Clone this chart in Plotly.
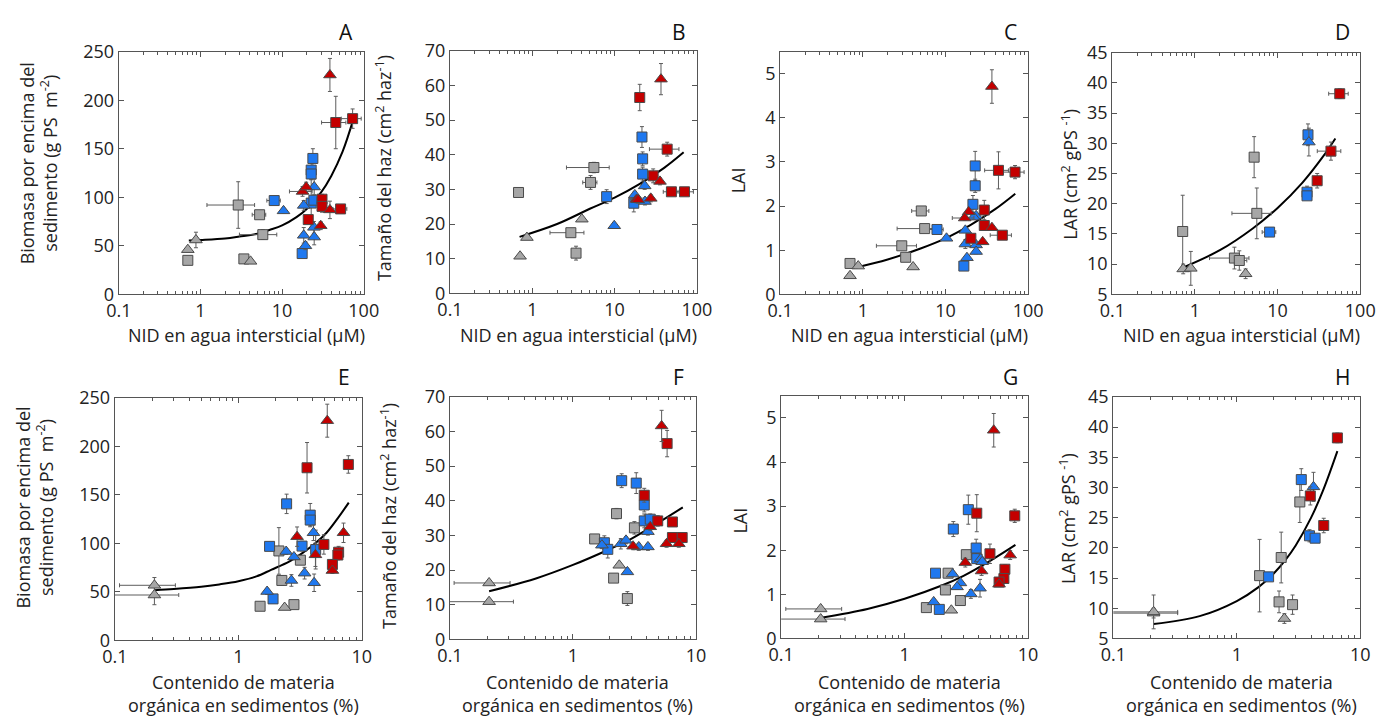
import plotly.graph_objects as go

W, H = 1387, 722
GREY, BLUE, RED = "#a6a6a6", "#1f78ef", "#c40000"
EDGE, ERR = "#4a4a4a", "#5c5c5c"
FONT = "Open Sans"

# rows: (x, y, y_error, x_error)
A_grey_sq = [(0.70, 35, 2, 0), (2.9, 92, 24, 1.7), (5.3, 82, 4, 1.0), (5.8, 61.5, 5, 2.8), (3.4, 36.5, 2, 0.3)]
A_grey_tri = [(0.70, 46, 2, 0), (0.88, 56, 8, 0), (4.1, 34, 1, 0)]
A_blue_sq = [(8.0, 96.6, 3, 1.5), (23.8, 140, 10, 0), (22.7, 128, 8, 0), (22.7, 124, 6, 0), (22.7, 94, 25, 0), (24.5, 97, 5, 0), (17.6, 42, 2, 0)]
A_blue_tri = [(10.4, 86, 2, 0), (24.7, 110.6, 8, 0), (18.4, 91.6, 5, 0), (24.5, 69, 6, 0), (18.4, 60.8, 8, 0), (24.7, 59, 8, 0), (19.3, 50, 4, 0)]
A_red_sq = [(45.4, 177, 27, 15), (73, 181, 10, 20), (30.8, 98, 5, 4), (30.8, 90.6, 6, 0), (52, 88, 4, 10), (20.9, 77, 4, 2)]
A_red_tri = [(38.5, 226, 17, 0), (17.8, 106, 5, 5.5), (19.7, 110.5, 5, 0), (38.5, 87, 9, 0), (29.7, 70.7, 4, 0)]
A_fit_x = [0.72, 1, 2, 3, 5, 7, 10, 15, 20, 30, 40, 55, 75]
A_fit_y = [55.5, 56, 57.5, 59.5, 62.5, 66.3, 71, 79.5, 88, 105, 122, 147, 181]

B_grey_sq = [(0.68, 29.1, 1, 0), (2.94, 17.5, 1, 1.3), (3.4, 11.6, 2, 0), (5.1, 32, 2, 1.0), (5.6, 36.3, 1.5, 3.0)]
B_grey_tri = [(0.71, 10.7, 0.5, 0), (0.86, 16.1, 0.5, 0), (4.0, 21.4, 0.5, 0)]
B_blue_sq = [(8.0, 27.9, 2, 0), (17.1, 26, 2.5, 0), (21.5, 45.1, 3, 0), (21.9, 38.8, 2, 0), (21.9, 34.4, 2, 0)]
B_blue_tri = [(9.9, 19.5, 0.5, 0), (17.6, 28.4, 1, 0), (23.2, 31, 1, 0), (23.4, 26.5, 1, 0)]
B_red_sq = [(20.2, 56.5, 3.8, 2), (43.5, 41.6, 2, 17), (29.4, 33.9, 2, 3), (49, 29.3, 1, 10), (70.7, 29.3, 1, 20)]
B_red_tri = [(36.6, 61.8, 4.5, 0), (35.6, 32.3, 1, 0), (18.5, 27.1, 1, 3), (19.3, 27, 1, 0), (27.5, 27.4, 1, 0)]
B_fit_x = [0.7, 2, 5, 10, 20, 40, 69]
B_fit_y = [16.3, 20, 24.4, 27.6, 31.5, 36.2, 40.7]

C_grey_sq = [(0.70, 0.70, 0.03, 0), (2.96, 1.10, 0.05, 1.5), (3.3, 0.84, 0.05, 0), (5.1, 1.89, 0.05, 1.2), (5.6, 1.49, 0.05, 3.0)]
C_grey_tri = [(0.70, 0.42, 0.02, 0), (0.88, 0.64, 0.02, 0), (4.06, 0.62, 0.02, 0)]
C_blue_sq = [(7.9, 1.47, 0.05, 1.5), (22.9, 2.91, 0.33, 0), (22.9, 2.46, 0.15, 0), (21.5, 2.04, 0.2, 0), (16.7, 0.64, 0.05, 0)]
C_blue_tri = [(10.3, 1.27, 0.03, 0), (23.5, 1.78, 0.05, 0), (22, 1.75, 0.05, 0), (17.4, 1.45, 0.05, 0), (17.4, 1.14, 0.1, 0), (23.5, 1.12, 0.05, 0), (23.5, 0.97, 0.05, 0), (18.2, 0.83, 0.05, 0)]
C_red_sq = [(43.8, 2.81, 0.42, 14), (69.5, 2.77, 0.15, 20), (29.5, 1.91, 0.22, 0), (29.5, 1.56, 0.1, 0), (48.8, 1.34, 0.05, 14), (20.3, 1.27, 0.08, 0)]
C_red_tri = [(36.5, 4.71, 0.38, 0), (19.1, 1.87, 0.05, 0), (17.1, 1.73, 0.05, 5), (36.5, 1.51, 0.05, 0), (28.2, 1.19, 0.05, 0)]
C_fit_x = [0.83, 2, 5, 10, 20, 40, 70]
C_fit_y = [0.61, 0.79, 1.04, 1.27, 1.57, 1.93, 2.28]

D_grey_sq = [(0.71, 15.4, 6, 0), (3.0, 11.0, 1.8, 1.5), (3.44, 10.6, 1.6, 0.8), (5.2, 27.7, 3.4, 0.6), (5.6, 18.4, 4.2, 2.8)]
D_grey_tri = [(0.72, 9.2, 0.8, 0), (0.89, 9.3, 2.8, 0), (4.1, 8.4, 0.8, 0)]
D_blue_sq = [(8.0, 15.3, 0.3, 1.5), (22.7, 21.9, 1, 0), (22.7, 21.3, 0.5, 0), (23.3, 31.4, 1.8, 0)]
D_blue_tri = [(23.9, 30.2, 2.3, 0)]
D_red_sq = [(56.5, 38.2, 0.8, 15), (44.2, 28.7, 1.5, 14), (30.1, 23.8, 1.2, 0)]
D_red_tri = []
D_fit_x = [0.71, 2, 5, 10, 20, 35, 50]
D_fit_y = [9.4, 12.3, 15.9, 19.3, 23.5, 27.7, 30.8]

E_grey_sq = [(1.5, 35.2, 2, 0), (2.82, 36.9, 2, 0), (2.13, 92.2, 24, 0), (2.25, 61.8, 5, 0), (3.18, 82.7, 4, 0)]
E_grey_tri = [(0.209, 56.8, 8, 0.1), (0.209, 46.8, 10, 0.12), (2.37, 33.9, 2, 0)]
E_blue_sq = [(2.46, 140.7, 10, 0), (1.79, 96.9, 3, 0), (3.28, 97.2, 5, 0), (3.82, 129.1, 12, 0), (3.82, 124, 6, 0), (4.23, 93.6, 20, 0), (1.91, 42.8, 2, 0)]
E_blue_tri = [(2.44, 91.6, 3, 0), (2.82, 86, 3, 0), (4.06, 110.9, 8, 0), (3.44, 69.3, 6, 0), (2.69, 61.8, 6, 0), (4.11, 59.4, 9, 0), (1.71, 50.4, 3, 0)]
E_red_sq = [(3.6, 177.9, 26, 0), (7.78, 181.3, 9, 0), (4.93, 98.9, 10, 0), (6.49, 90.9, 6, 0), (6.4, 88, 5, 0), (5.78, 78.3, 5, 0)]
E_red_tri = [(5.25, 226.4, 17, 0), (2.99, 106.9, 10, 0), (7.11, 110.9, 10, 0), (4.21, 88.2, 12, 0), (5.78, 72, 3, 0)]
E_fit_x = [0.21, 0.3, 0.5, 0.7, 1.0, 1.4, 1.84, 2.6, 3.38, 4.2, 5.18, 6.4, 7.84]
E_fit_y = [51.8, 53, 55.3, 57.7, 61, 66, 72.7, 81.5, 90.9, 100, 110.9, 126, 142]

F_grey_sq = [(1.5, 29.0, 1, 0), (2.26, 36.3, 1.5, 0), (2.14, 17.7, 0.8, 0), (3.16, 32.2, 1.8, 0), (2.77, 11.8, 2, 0)]
F_grey_tri = [(0.208, 16.3, 0.5, 0.1), (0.208, 10.9, 0.5, 0.12), (2.38, 21.4, 0.5, 0)]
F_blue_sq = [(2.49, 45.8, 2, 0), (3.27, 45.1, 3, 0), (3.8, 38.8, 2, 0), (3.8, 34.2, 2, 0), (4.25, 34.7, 1.5, 0), (1.8, 27.9, 2, 0), (1.92, 26, 2.5, 0)]
F_blue_tri = [(1.72, 27.2, 1, 0), (2.45, 27.6, 1.5, 0), (2.7, 28.6, 1, 0), (3.43, 26.7, 1, 0), (4.07, 26.7, 1, 0), (4.07, 31.1, 1, 0), (2.77, 19.5, 0.5, 0)]
F_red_sq = [(5.83, 56.5, 3.8, 0), (3.8, 41.6, 2, 0), (4.89, 34.2, 1.5, 0), (6.44, 33.9, 1, 0), (6.44, 29.4, 1, 0), (7.73, 29.4, 1, 0)]
F_red_tri = [(5.26, 61.6, 4.5, 0), (4.25, 32.5, 1, 0), (3.08, 26.9, 1, 0), (5.77, 27.6, 1, 0), (7.26, 27.6, 1, 0)]
F_fit_x = [0.208, 0.5, 1, 2, 3, 5, 7.82]
F_fit_y = [13.9, 17.6, 21.5, 26.1, 29.1, 33.8, 38.1]

G_grey_sq = [(1.5, 0.70, 0.03, 0), (2.14, 1.10, 0.03, 0), (2.25, 1.48, 0.05, 0), (2.83, 0.86, 0.03, 0), (3.16, 1.90, 0.05, 0)]
G_grey_tri = [(0.209, 0.67, 0.02, 0.1), (0.209, 0.44, 0.02, 0.12), (2.39, 0.64, 0.02, 0)]
G_blue_sq = [(3.28, 2.92, 0.33, 0), (2.48, 2.48, 0.17, 0), (1.78, 1.48, 0.03, 0), (1.91, 0.66, 0.03, 0), (3.8, 2.05, 0.2, 0), (3.84, 1.81, 0.1, 0)]
G_blue_tri = [(1.72, 0.83, 0.05, 0), (2.45, 1.46, 0.05, 0), (2.83, 1.26, 0.05, 0), (2.66, 1.17, 0.05, 0), (3.44, 1.01, 0.1, 0), (4.08, 1.14, 0.2, 0), (4.13, 1.80, 0.1, 0), (4.25, 1.74, 0.05, 0)]
G_red_sq = [(3.84, 2.84, 0.42, 0), (7.8, 2.78, 0.15, 0), (4.91, 1.92, 0.22, 0), (6.49, 1.57, 0.1, 0), (6.37, 1.36, 0.05, 0), (5.82, 1.28, 0.08, 0)]
G_red_tri = [(5.27, 4.72, 0.38, 0), (3.1, 1.72, 0.1, 0), (4.2, 1.53, 0.1, 0), (7.16, 1.89, 0.1, 0), (5.82, 1.23, 0.05, 0)]
G_fit_x = [0.21, 0.5, 1, 2, 3, 5, 7.9]
G_fit_y = [0.47, 0.67, 0.90, 1.20, 1.42, 1.77, 2.12]

H_grey_sq = [(1.53, 15.4, 6, 0), (2.29, 18.4, 4.2, 0), (2.2, 11.06, 1.8, 0), (2.83, 10.6, 1.6, 0), (3.24, 27.6, 3.4, 0)]
H_grey_tri = [(0.212, 9.2, 0.8, 0.12), (0.212, 9.4, 2.8, 0.12), (2.43, 8.3, 0.8, 0)]
H_blue_sq = [(1.81, 15.2, 0.3, 0), (3.33, 31.3, 1.8, 0), (3.88, 22.0, 1, 0), (4.31, 21.6, 0.5, 0)]
H_blue_tri = [(4.18, 30.1, 2.4, 0)]
H_red_sq = [(3.94, 28.6, 1.5, 0), (6.53, 38.2, 0.8, 0), (5.06, 23.7, 1.2, 0)]
H_red_tri = []
H_fit_x = [0.212, 0.5, 1, 1.5, 2, 2.5, 3, 4, 5, 6.53]
H_fit_y = [7.4, 8.7, 11.2, 13.5, 15.8, 18.1, 20.4, 25, 29.5, 36]

X_TOP = "NID en agua intersticial (µM)"
X_BOT = "Contenido de materia<br>orgánica en sedimentos (%)"
Y_BIO = "Biomasa por encima del<br>sedimento (g PS  m<sup>-2</sup>)"
Y_HAZ = "Tamaño del haz (cm<sup>2</sup> haz<sup>-1</sup>)"
Y_LAI = "LAI"
Y_LAR = "LAR (cm<sup>2</sup> gPS <sup>-1</sup>)"

# letter, data, fit, x px span, y px span (top,bottom), decades, y range, y step, y title, y title px, x title, x title y px
panels = [
    ("A", (A_grey_sq, A_grey_tri, A_blue_sq, A_blue_tri, A_red_sq, A_red_tri), (A_fit_x, A_fit_y),
     (108, 358), (40, 291), 3, (0, 250), 50, Y_BIO, (26, 155), X_TOP, 333),
    ("B", (B_grey_sq, B_grey_tri, B_blue_sq, B_blue_tri, B_red_sq, B_red_tri), (B_fit_x, B_fit_y),
     (446, 698), (39, 290), 3, (0, 70), 10, Y_HAZ, (378, 160), X_TOP, 333),
    ("C", (C_grey_sq, C_grey_tri, C_blue_sq, C_blue_tri, C_red_sq, C_red_tri), (C_fit_x, C_fit_y),
     (783, 1036), (40, 291), 3, (0, 5.5), 1, Y_LAI, (740, 173), X_TOP, 333),
    ("D", (D_grey_sq, D_grey_tri, D_blue_sq, D_blue_tri, D_red_sq, D_red_tri), (D_fit_x, D_fit_y),
     (1122, 1375), (41, 291), 3, (5, 45), 5, Y_LAR, (1079, 167), X_TOP, 333),
    ("E", (E_grey_sq, E_grey_tri, E_blue_sq, E_blue_tri, E_red_sq, E_red_tri), (E_fit_x, E_fit_y),
     (104, 356), (398, 649), 2, (0, 250), 50, Y_BIO, (22, 512), X_BOT, 704),
    ("F", (F_grey_sq, F_grey_tri, F_blue_sq, F_blue_tri, F_red_sq, F_red_tri), (F_fit_x, F_fit_y),
     (446, 697), (397, 648), 2, (0, 70), 10, Y_HAZ, (383, 520), X_BOT, 704),
    ("G", (G_grey_sq, G_grey_tri, G_blue_sq, G_blue_tri, G_red_sq, G_red_tri), (G_fit_x, G_fit_y),
     (784, 1036), (396, 647), 2, (0, 5.5), 1, Y_LAI, (742, 525), X_BOT, 704),
    ("H", (H_grey_sq, H_grey_tri, H_blue_sq, H_blue_tri, H_red_sq, H_red_tri), (H_fit_x, H_fit_y),
     (1123, 1375), (397, 647), 2, (5, 45), 5, Y_LAR, (1076, 523), X_BOT, 704),
]

styles = [(GREY, "square", 10), (GREY, "triangle-up", 11), (BLUE, "square", 10),
          (BLUE, "triangle-up", 11), (RED, "square", 10), (RED, "triangle-up", 11)]

fig = go.Figure()
annotations = []
layout = {}
for k, (letter, groups, fit, xs, ys, ndec, yr, ydt, ytitle, ypos, xtitle, xty) in enumerate(panels, start=1):
    xa = "x" if k == 1 else f"x{k}"
    ya = "y" if k == 1 else f"y{k}"
    fig.add_trace(go.Scatter(x=fit[0], y=fit[1], mode="lines", line=dict(color="black", width=2, shape="spline"),
                             xaxis=xa, yaxis=ya, showlegend=False, hoverinfo="skip"))
    for rows, (col, sym, size) in zip(groups, styles):
        if not rows:
            continue
        gx = [r[0] for r in rows]
        gy = [r[1] for r in rows]
        ey = [r[2] if r[2] else None for r in rows]
        ex = [r[3] if r[3] else None for r in rows]
        fig.add_trace(go.Scatter(
            x=gx, y=gy, mode="markers", xaxis=xa, yaxis=ya, showlegend=False,
            marker=dict(symbol=sym, size=size, color=col, line=dict(color=EDGE, width=1)),
            error_y=dict(type="data", array=ey, color=ERR, thickness=1, width=2),
            error_x=dict(type="data", array=ex, color=ERR, thickness=1, width=2, visible=any(ex)),
        ))
    decs = [10 ** (e - 1) for e in range(ndec + 1)]
    minors = [m * d for d in decs[:-1] for m in range(2, 10)]
    tt = ["0.1", "1", "10", "100"][:ndec + 1]
    axis_common = dict(showline=True, linecolor="#555555", linewidth=1.3, mirror="ticks", ticks="inside",
                       ticklen=5, tickcolor="#555555", showgrid=False, zeroline=False,
                       tickfont=dict(family=FONT, size=18, color="#222222"))
    layout["xaxis" if k == 1 else f"xaxis{k}"] = dict(
        type="log", range=[-1, ndec - 1], domain=[xs[0] / W, xs[1] / W], anchor=ya,
        tickvals=decs, ticktext=tt,
        minor=dict(tickvals=minors, ticks="inside", ticklen=3, tickcolor="#555555"),
        **axis_common)
    yt = []
    v = yr[0]
    while v <= yr[1] + 1e-9:
        yt.append(round(v, 6))
        v += ydt
    layout["yaxis" if k == 1 else f"yaxis{k}"] = dict(
        range=list(yr), domain=[1 - ys[1] / H, 1 - ys[0] / H], anchor=xa,
        tickvals=yt, ticktext=[f"{t:g}" for t in yt], **axis_common)
    annotations.append(dict(text=letter, x=xs[1] - 18, y=20 if k <= 4 else 376,
                            font=dict(family=FONT, size=21, color="#111111")))
    annotations.append(dict(text=ytitle, x=ypos[0], y=ypos[1], textangle=-90,
                            font=dict(family=FONT, size=18, color="#222222")))
    annotations.append(dict(text=xtitle, x=(xs[0] + xs[1]) / 2 + 5, y=xty,
                            font=dict(family=FONT, size=18, color="#222222")))

for a in annotations:
    a.update(xref="paper", yref="paper", x=a["x"] / W, y=1 - a["y"] / H,
             xanchor="center", yanchor="middle", showarrow=False)

fig.update_layout(width=W, height=H, margin=dict(l=0, r=0, t=0, b=0), plot_bgcolor="white",
                  paper_bgcolor="white", annotations=annotations, font=dict(family=FONT), **layout)
fig.write_html("out.html")
